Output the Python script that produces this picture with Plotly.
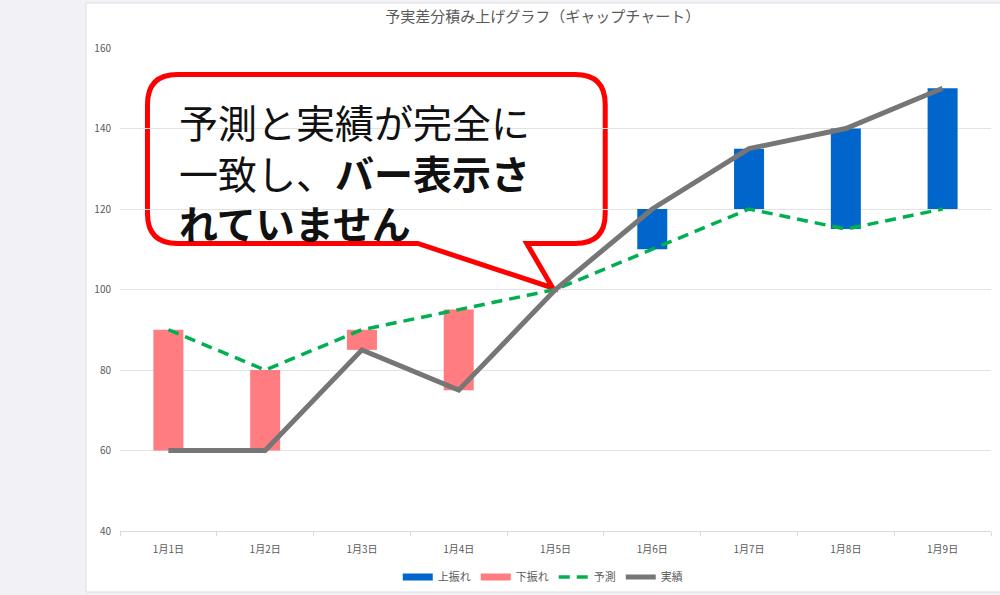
import plotly.graph_objects as go

# data
dates = ["1月1日", "1月2日", "1月3日", "1月4日", "1月5日", "1月6日", "1月7日", "1月8日", "1月9日"]
forecast = [90, 80, 90, 95, 100, 110, 120, 115, 120]
actual = [60, 60, 85, 75, 100, 120, 135, 140, 150]

title_text = "予実差分積み上げグラフ（ギャップチャート）"
callout_text = "予測と実績が完全に<br>一致し、<b>バー表示さ</b><br><b>れていません</b>"

# gap bars: base is the smaller value, height is the difference
up_base = [f if a > f else None for f, a in zip(forecast, actual)]
up_h = [a - f if a > f else None for f, a in zip(forecast, actual)]
down_base = [a if a < f else None for f, a in zip(forecast, actual)]
down_h = [f - a if a < f else None for f, a in zip(forecast, actual)]

BLUE = "#0066CC"
PINK = "#FF7C80"
GREEN = "#00B050"
GRAY = "#767676"
TXT = "#595959"
FONT = "Noto Sans CJK JP"

# plot area in pixels
L, R, T, B = 120, 991.5, 48, 531


def px(x):
    return (x - L) / (R - L)


def py(y):
    return (B - y) / (B - T)


fig = go.Figure()

fig.add_trace(go.Bar(x=dates, y=up_h, base=up_base, marker=dict(color=BLUE, line_width=0),
                     width=0.31, name="上振れ", showlegend=False))
fig.add_trace(go.Bar(x=dates, y=down_h, base=down_base, marker=dict(color=PINK, line_width=0),
                     width=0.31, name="下振れ", showlegend=False))

# legend samples drawn as flat bars like the original
fig.add_trace(go.Scatter(x=[None], y=[None], mode="lines", line=dict(color=BLUE, width=7), name="上振れ"))
fig.add_trace(go.Scatter(x=[None], y=[None], mode="lines", line=dict(color=PINK, width=7), name="下振れ"))

fig.add_trace(go.Scatter(x=dates, y=forecast, mode="lines", name="予測",
                         line=dict(color=GREEN, width=3.5, dash="11px,7px")))
fig.add_trace(go.Scatter(x=dates, y=actual, mode="lines", name="実績",
                         line=dict(color=GRAY, width=5)))

# white chart card on a grey page
shapes = [dict(type="rect", xref="paper", yref="paper", layer="below",
               x0=px(86), x1=px(1001), y0=py(592), y1=py(3),
               fillcolor="white", line=dict(color="#dcdce2", width=1))]

# speech bubble
x0, x1, y0, y1, r = 147.5, 605.5, 74.5, 243.5, 30
pts = [
    ("M", [(x0 + r, y0)]),
    ("L", [(x1 - r, y0)]),
    ("Q", [(x1, y0), (x1, y0 + r)]),
    ("L", [(x1, y1 - r)]),
    ("Q", [(x1, y1), (x1 - r, y1)]),
    ("L", [(527, y1)]),
    ("L", [(553, 288)]),
    ("L", [(418, y1)]),
    ("L", [(x0 + r, y1)]),
    ("Q", [(x0, y1), (x0, y1 - r)]),
    ("L", [(x0, y0 + r)]),
    ("Q", [(x0, y0), (x0 + r, y0)]),
]
path = " ".join(c + " " + " ".join(f"{px(a):.5f},{py(b):.5f}" for a, b in p) for c, p in pts) + " Z"
shapes.append(dict(type="path", xref="paper", yref="paper", layer="below", path=path,
                   fillcolor="white", line=dict(color="#FF0000", width=5)))

annotations = [dict(text=callout_text, xref="paper", yref="paper", x=px(177), y=py(171),
                    xanchor="left", yanchor="middle", align="left", showarrow=False,
                    font=dict(family=FONT, size=39, color="#111111"))]

fig.update_layout(
    width=1000, height=595,
    margin=dict(l=L, r=1000 - R, t=T, b=595 - B, autoexpand=False),
    paper_bgcolor="#f1f1f6",
    plot_bgcolor="white",
    font=dict(family=FONT, color=TXT, size=10),
    barmode="overlay",
    title=dict(text=title_text, xref="paper", x=px(543), xanchor="center",
               y=1 - 17 / 595, yanchor="middle", font=dict(size=15, color=TXT)),
    legend=dict(orientation="h", xanchor="center", x=px(543), yanchor="middle", y=py(577),
                font=dict(size=11, color=TXT), bgcolor="rgba(0,0,0,0)"),
    shapes=shapes,
    annotations=annotations,
)
fig.update_yaxes(range=[40, 160], dtick=20, showgrid=True, gridcolor="#e3e3e3",
                 zeroline=False, ticks="", ticklabelstandoff=8, tickfont=dict(size=10, color=TXT))
fig.update_xaxes(showgrid=False, showline=True, linecolor="#d9d9d9", ticks="outside",
                 tickson="boundaries", ticklen=4, tickcolor="#d9d9d9",
                 ticklabelstandoff=9, tickfont=dict(size=10, color=TXT))

# drop the default page margin so the figure fills the window
fig.write_html("out.html", config={"displayModeBar": False},
               post_script="document.body.style.margin='0';")
